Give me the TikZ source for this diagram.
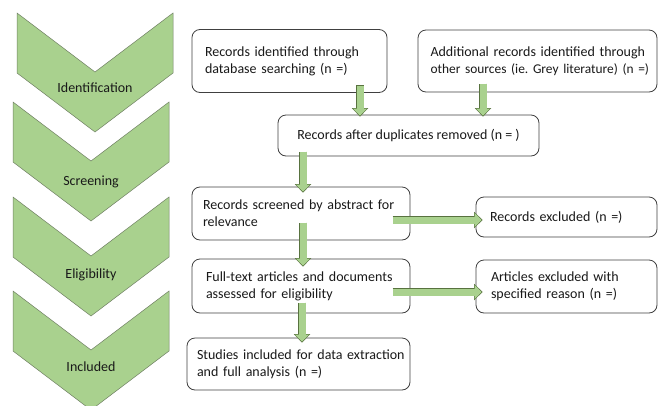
\documentclass[tikz,border=0pt]{standalone}
\usepackage{fontspec}
\setmainfont{Carlito}
\usetikzlibrary{arrows.meta}
\definecolor{chevgreen}{HTML}{A9D18E}
\definecolor{chevedge}{HTML}{6F7F63}
\definecolor{arrowedge}{HTML}{58723F}
\definecolor{boxedge}{HTML}{404040}
\tikzset{
	box/.style={draw=boxedge, line width=0.8pt, rounded corners=8pt, fill=white, align=left, inner sep=0pt, text=black!90, font=\fontsize{14}{17}\selectfont},
	stage/.style={text=black!90, font=\fontsize{14}{17}\selectfont},
	flow/.style={draw=chevgreen, line width=7pt, shorten >=1pt, -{Triangle[width=14pt,length=7pt,line width=0pt]},
		preaction={draw=arrowedge, line width=8.4pt, shorten >=0pt, shorten <=-0.7pt, -{Triangle[width=16.5pt,length=8.5pt,line width=0pt]}}}
}
\begin{document}
\begin{tikzpicture}[x=1pt, y=-1pt]
		\useasboundingbox (0,0) rectangle (659,405);
		% stages on the left
		\foreach \cx/\cy/\ly/\name/\lbl in {17/13/75/ident/Identification, 13/102/80/screen/Screening, 13/197/78/elig/Eligibility, 13/291/76/incl/Included}{
			\draw[fill=chevgreen, draw=chevedge, line width=0.5pt] (\cx,\cy) -- ++(78,59) -- ++(78,-59) -- ++(0,60) -- ++(-78,59) -- ++(-78,-59) -- cycle;
			\node[stage] (\name) at (\cx+78,\cy+\ly) {\lbl};
		}
		% boxes
		\node[box, minimum width=195pt, minimum height=63pt, text width=169pt] (dbsearch) at (289.5,61) {\mbox{Records identified through}\\\mbox{database searching (n =)}};
		\node[box, minimum width=239pt, minimum height=62pt, text width=214pt] (othersrc) at (537.5,61) {\mbox{Additional records identified through}\\\mbox{\fontsize{13.4}{17}\selectfont other sources (ie.\ Grey literature) (n =)}};
		\node[box, minimum width=261pt, minimum height=41pt, align=center] (dedup) at (408.5,135.5) {Records after duplicates removed (n = )};
		\node[box, minimum width=218pt, minimum height=53pt, text width=196pt] (screened) at (301,213.5) {\mbox{Records screened by abstract for}\\relevance};
		\node[box, minimum width=181pt, minimum height=40pt, text width=153pt] (recexcl) at (566.5,217) {\mbox{Records excluded (n =)}};
		\node[box, minimum width=218pt, minimum height=54pt, text width=190pt] (fulltext) at (301,286) {\mbox{Full-text articles and documents}\\\mbox{assessed for eligibility}};
		\node[box, minimum width=181pt, minimum height=53pt, text width=151pt] (artexcl) at (566.5,286.5) {\mbox{Articles excluded with}\\\mbox{specified reason (n =)}};
		\node[box, minimum width=223pt, minimum height=52pt, text width=203pt] (included) at (298.5,364) {\mbox{Studies included for data extraction}\\\mbox{and full analysis (n =)}};
		% arrows
		\draw[flow] ([xshift=70.5pt,yshift=7pt]dbsearch.south) -- ([xshift=-48.5pt,yshift=-2pt]dedup.north);
		\draw[flow] ([xshift=-54.5pt,yshift=8pt]othersrc.south) -- ([xshift=74.5pt,yshift=-2pt]dedup.north);
		\draw[flow] ([xshift=-105.5pt,yshift=4pt]dedup.south) -- ([xshift=2pt,yshift=-6pt]screened.north);
		\draw[flow] ([xshift=-17pt,yshift=-6.5pt]screened.east) -- ([xshift=7pt,yshift=-3pt]recexcl.west);
		\draw[flow] ([xshift=2pt,yshift=17pt]screened.south) -- ([xshift=2pt,yshift=-8pt]fulltext.north);
		\draw[flow] ([xshift=-17pt,yshift=-6pt]fulltext.east) -- ([xshift=7pt,yshift=-5.5pt]artexcl.west);
		\draw[flow] ([xshift=1pt,yshift=10pt]fulltext.south) -- ([xshift=3.5pt,yshift=-5pt]included.north);
	\end{tikzpicture}
\end{document}
